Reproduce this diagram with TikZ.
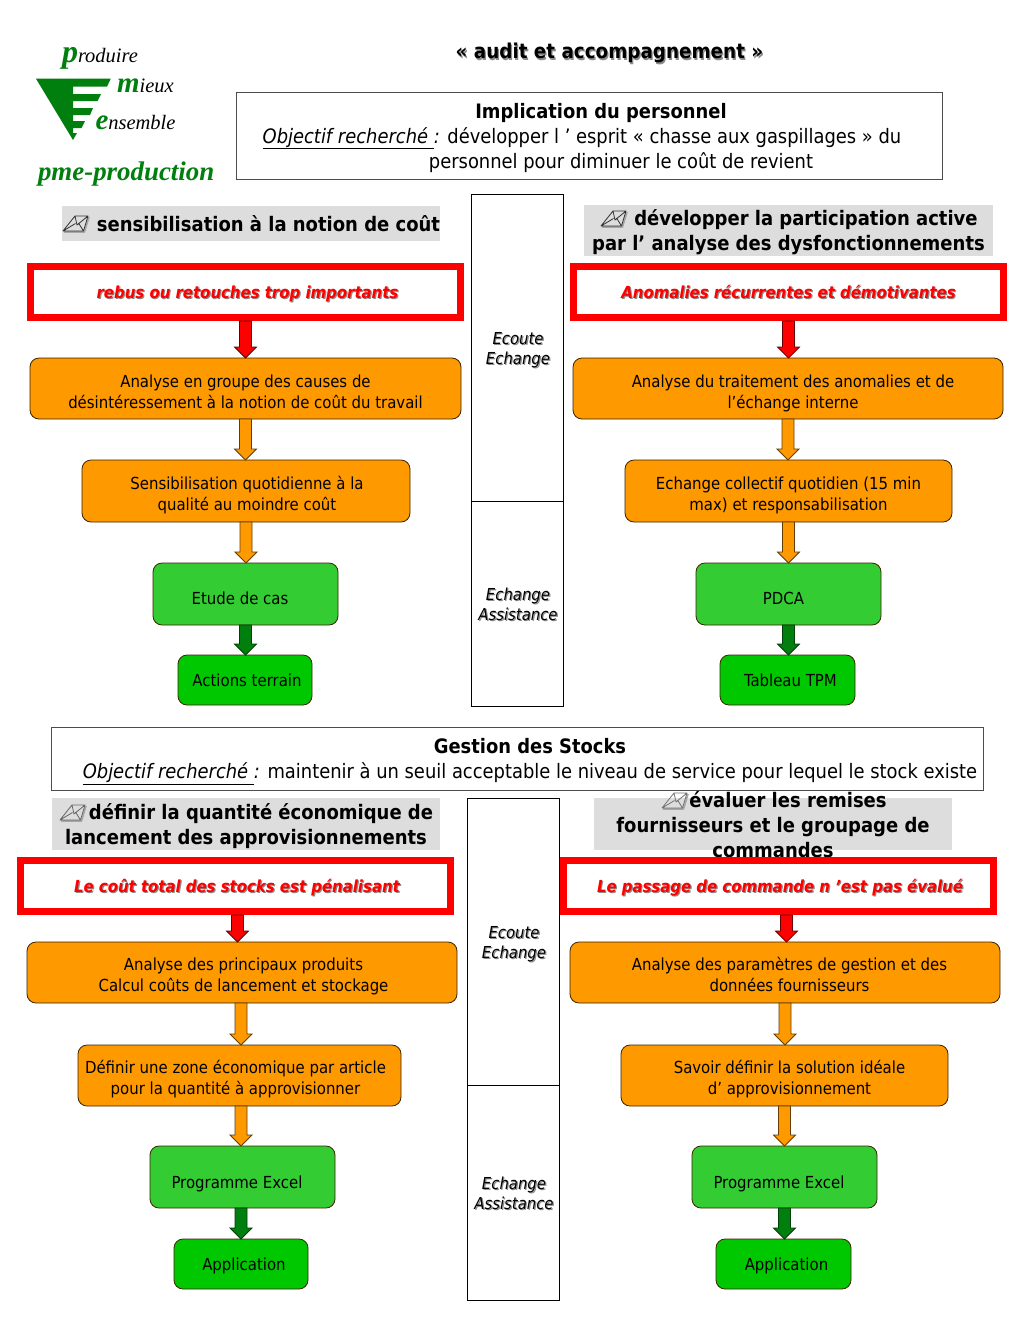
\documentclass[tikz,border=0pt]{standalone}
\usepackage{fontspec}
\usetikzlibrary{calc}
\setmainfont{DejaVu Sans Condensed}
\newfontfamily\logo{Liberation Serif}
\definecolor{orangebox}{HTML}{FF9900}
\definecolor{greenbox}{HTML}{33CC33}
\definecolor{greenboxb}{HTML}{00C800}
\definecolor{darkgr}{HTML}{007F0E}
\definecolor{headgray}{HTML}{DDDDDD}
\definecolor{outl}{HTML}{3A2400}
\newcommand\shad[1]{\leavevmode\rlap{\kern1.2pt\raisebox{-1.2pt}{\color{black!45}#1}}#1}
\newcommand\padd[1]{\rule{#1pt}{0pt}}
% \TT{s}: first-line strut that moves the text block s pt down; \BB: last-line strut
\newcommand\TT[1]{\rule{0pt}{\dimexpr0.7\baselineskip+2\dimexpr#1pt\relax\relax}}
\newcommand\BB{\rule[-.3\baselineskip]{0pt}{0pt}}
\newcommand\bx[7]{%
  \pgfmathsetmacro\cxx{(#2+#4)/2}\pgfmathsetmacro\cyy{(#3+#5)/2}
  \pgfmathsetmacro\wxx{#4-#2}\pgfmathsetmacro\hxx{#5-#3}
  \node[#6,minimum width=\wxx pt,minimum height=\hxx pt] (#1) at (\cxx,\cyy) {#7};}
\newcommand\envicon[2]{%
  \begin{scope}[shift={(#1)},line join=round]
  \draw[black!35,line width=1.6pt,shift={(1,1)}] (0,15) -- (20.5,15) -- (25,0);
  \draw[#2,line width=.8pt] (0,15) -- (12,0) -- (25,0) -- (20.5,15) -- cycle
     (12,0) -- (14,9) -- (25,0) (0,15) -- (12.5,7.5) (20.5,15) -- (15.5,7);
  \end{scope}}
\tikzset{
  base/.style={inner sep=0pt,outer sep=0pt,align=center,font=\fontsize{16.6}{21}\selectfont,text=black},
  orbox/.style={base,draw=outl,line width=.8pt,fill=orangebox,rounded corners=9pt},
  grbox/.style={base,draw=outl,line width=.8pt,fill=greenbox,rounded corners=9pt},
  grboxb/.style={base,draw=outl,line width=.8pt,fill=greenboxb,rounded corners=9pt},
  plainbox/.style={base,draw=black!70,line width=.8pt,fill=white,font=\fontsize{19.9}{25}\selectfont},
  midbox/.style={base,draw=black,line width=1pt,fill=white},
  midtext/.style={base,font=\fontsize{16.5}{20}\selectfont\itshape},
  headbox/.style={base,fill=headgray},
  headtext/.style={base,font=\fontsize{20}{25}\selectfont\bfseries},
  redbox/.style={base,draw=red,line width=7pt,fill=white,outer sep=3.5pt,text=red,font=\fontsize{16.6}{21}\selectfont\bfseries\itshape},
  blockarrow/.style={draw=#1,line width=.8pt,line join=miter,
    to path={let \p1=(\tikztostart),\p2=(\tikztotarget) in
      (\x1-6pt,\y1) -- (\x1-6pt,\y2+11pt) -- (\x1-11pt,\y2+11pt) -- (\x1,\y2)
      -- (\x1+11pt,\y2+11pt) -- (\x1+6pt,\y2+11pt) -- (\x1+6pt,\y1) -- cycle}},
  ar red/.style={blockarrow=black!60!red,fill=red},
  ar or/.style={blockarrow=black!60!orangebox,fill=orangebox},
  ar gr/.style={blockarrow=black!50!darkgr,fill=darkgr},
  logotxt/.style={inner sep=0pt,outer sep=0pt,anchor=base west,text=black,font=\logo\itshape\fontsize{20.5}{20.5}\selectfont},
}
\begin{document}
\begin{tikzpicture}[x=1pt,y=-1pt]
\path[use as bounding box,fill=white] (0,0) rectangle (1024,1331);
% logo
\fill[darkgr] (36,78.7) -- (110.7,78.7) -- (107,86.7) -- (73,86.7) -- (73,94) -- (101,94) -- (97.5,101) -- (73,101)
  -- (73,108) -- (93,108) -- (90,115) -- (73,115) -- (73,121) -- (85,121) -- (81.5,128) -- (73,128) -- (73,133) -- (77,133) -- (73,140) -- cycle;
\node[logotxt] (lp) at (62,62) {\textcolor{darkgr}{\bfseries\fontsize{32}{32}\selectfont p}roduire};
\node[logotxt] (lm) at (117,92.5) {\textcolor{darkgr}{\bfseries\fontsize{29}{29}\selectfont m}ieux};
\node[logotxt] (le) at (95.5,129.5) {\textcolor{darkgr}{\bfseries\fontsize{29}{29}\selectfont e}nsemble};
\node[logotxt,text=darkgr,font=\logo\bfseries\itshape\fontsize{26.9}{27}\selectfont] (lpp) at (38,180) {pme-production};
% title
\node[base,font=\fontsize{20.4}{24}\selectfont\bfseries] (title) at (609.5,54) {\shad{« audit et accompagnement »}};
% top objective
\bx{obj}{236}{92}{942}{179}{plainbox}{\TT{2.5}\padd{24}\textbf{Implication du personnel}\\\underline{\textit{Objectif recherché~}}\textit{:} développer l ’ esprit « chasse aux gaspillages » du\padd{14}\\\padd{64}personnel pour diminuer le coût de revient\BB}
% upper left
\bx{hl}{62}{206}{440}{241}{headbox}{}
\node[headtext] (thl) at (268.5,223.5) {sensibilisation à la notion de coût};
\bx{rl}{30.5}{266.5}{460.5}{317.5}{redbox}{\TT{1.8}\padd{4}\shad{rebus ou retouches trop importants}\BB}
\bx{oal}{30}{358}{461}{419}{orbox}{\TT{4.8}Analyse en groupe des causes de\\désintéressement à la notion de coût du travail\BB}
\bx{obl}{82}{460}{410}{522}{orbox}{\TT{4.8}\padd{2}Sensibilisation quotidienne à la\\\padd{2}qualité au moindre coût\BB}
\bx{gal}{153}{563}{338}{625}{grbox}{\TT{6}Etude de cas\padd{11}\BB}
\bx{gbl}{178}{655}{312}{705}{grboxb}{\TT{1.8}\padd{4}Actions terrain\BB}
% upper right
\bx{hr}{584}{205}{993}{256}{headbox}{}
\node[headtext] (thr) at (788.5,232) {\padd{35}développer la participation active\\par l’ analyse des dysfonctionnements};
\bx{rr}{573.5}{266.5}{1003.5}{317.5}{redbox}{\TT{1.8}\shad{Anomalies récurrentes et démotivantes}\BB}
\bx{oar}{573}{358}{1003}{419}{orbox}{\TT{4.8}\padd{10}Analyse du traitement des anomalies et de\\\padd{10}l’échange interne\BB}
\bx{obr}{625}{460}{952}{522}{orbox}{\TT{4.8}Echange collectif quotidien (15 min\\max) et responsabilisation\BB}
\bx{gar}{696}{563}{881}{625}{grbox}{\TT{6}PDCA\padd{10}\BB}
\bx{gbr}{720}{655}{855}{705}{grboxb}{\TT{1.8}\padd{6}Tableau TPM\BB}
% upper middle
\bx{ma}{471}{194}{563}{501}{midbox}{}
\bx{mb}{471}{501}{563}{706}{midbox}{}
\node[midtext] (tma) at (518,351) {\shad{Ecoute}\\\shad{Echange}};
\node[midtext] (tmb) at (518,605) {\shad{Echange}\\\shad{Assistance}};
% stocks objective
\bx{stk}{51}{727}{983}{790}{plainbox}{\TT{2.6}\padd{26}\textbf{Gestion des Stocks}\\\padd{26}\underline{\textit{Objectif recherché~}}\textit{:} maintenir à un seuil acceptable le niveau de service pour lequel le stock existe\BB}
% lower left
\bx{hll}{52}{798}{440}{850}{headbox}{}
\node[headtext] (thll) at (246,826) {\padd{30}définir la quantité économique de\\lancement des approvisionnements};
\bx{hlr}{594}{798}{952}{850}{headbox}{}
\node[headtext] (thlr) at (773,825) {\padd{30}évaluer les remises\\fournisseurs et le groupage de\\commandes};
\bx{rll}{20.5}{860.5}{450.5}{911.5}{redbox}{\TT{1.8}\padd{3}\shad{Le coût total des stocks est pénalisant}\BB}
\bx{rlr}{563.5}{860.5}{993.5}{911.5}{redbox}{\TT{1.8}\padd{3}\shad{Le passage de commande n ’est pas évalué}\BB}
\bx{oall}{27}{942}{457}{1003}{orbox}{\TT{4.3}\padd{3}Analyse des principaux produits\\\padd{3}Calcul coûts de lancement et stockage\BB}
\bx{obll}{78}{1045}{401}{1106}{orbox}{\TT{3.8}Définir une zone économique par article\padd{8}\\pour la quantité à approvisionner\padd{8}\BB}
\bx{gall}{150}{1146}{335}{1208}{grbox}{\TT{7}Programme Excel\padd{11}\BB}
\bx{gbll}{174}{1239}{308}{1289}{grboxb}{\TT{1.8}\padd{6}Application\BB}
\bx{oalr}{570}{942}{1000}{1003}{orbox}{\TT{4.3}\padd{9}Analyse des paramètres de gestion et des\\\padd{9}données fournisseurs\BB}
\bx{oblr}{621}{1045}{948}{1106}{orbox}{\TT{3.8}\padd{10}Savoir définir la solution idéale\\\padd{10}d’ approvisionnement\BB}
\bx{galr}{692}{1146}{877}{1208}{grbox}{\TT{7}Programme Excel\padd{11}\BB}
\bx{gblr}{716}{1239}{851}{1289}{grboxb}{\TT{1.8}\padd{6}Application\BB}
% lower middle
\bx{mc}{467}{798}{559}{1085}{midbox}{}
\bx{md}{467}{1085}{559}{1300}{midbox}{}
\node[midtext] (tmc) at (514,945) {\shad{Ecoute}\\\shad{Echange}};
\node[midtext] (tmd) at (514,1194) {\shad{Echange}\\\shad{Assistance}};
% envelopes
\envicon{63,216}{black!80}
\envicon{601,211}{black!80}
\envicon{60,805}{black!60}
\envicon{662,793}{black!55}
% arrows
\draw[ar red] (rl.south) to (oal.north);
\draw[ar or] (oal.south) to (obl.north);
\draw[ar or] (obl.south) to (gal.north);
\draw[ar gr] (gal.south) to (gbl.north);
\draw[ar red] (rr.south) to (oar.north);
\draw[ar or] (oar.south) to (obr.north);
\draw[ar or] (obr.south) to (gar.north);
\draw[ar gr] (gar.south) to (gbr.north);
\draw[ar red] ([xshift=2pt]rll.south) to (oall.north);
\draw[ar or] ([xshift=-1pt]oall.south) to (obll.north);
\draw[ar or] ([xshift=1.5pt]obll.south) to (gall.north);
\draw[ar gr] ([xshift=-1.5pt]gall.south) to (gbll.north);
\draw[ar red] ([xshift=8pt]rlr.south) to (oalr.north);
\draw[ar or] (oalr.south) to (oblr.north);
\draw[ar or] (oblr.south) to (galr.north);
\draw[ar gr] (galr.south) to (gblr.north);
\end{tikzpicture}
\end{document}
